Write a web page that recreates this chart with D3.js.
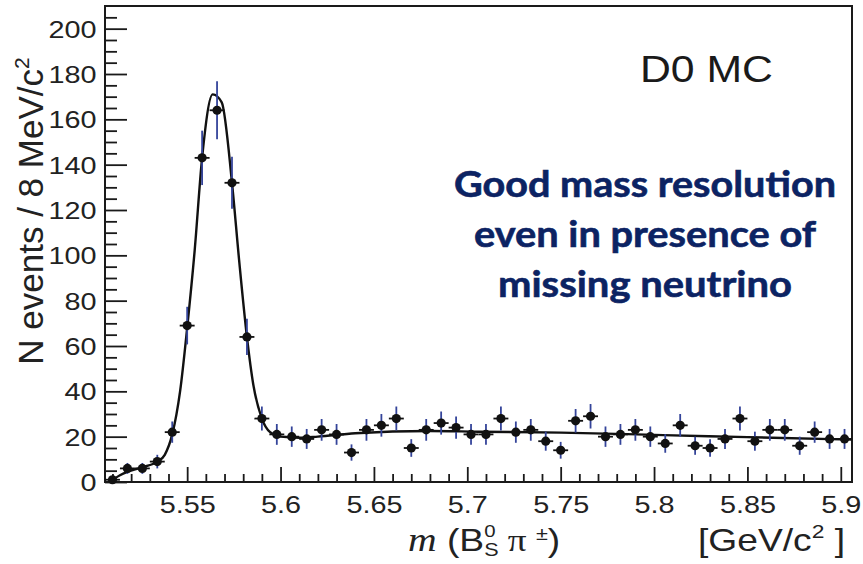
<!DOCTYPE html>
<html><head><meta charset="utf-8">
<script src="https://cdn.jsdelivr.net/npm/d3@7"></script>
<style>body{margin:0;background:#fff}</style>
</head><body><svg id="c" width="863" height="564"></svg>
<script>
// ---- data ----
const massBins = [5.510,5.518,5.526,5.534,5.542,5.550,5.558,5.566,5.574,5.582,5.590,5.598,5.606,5.614,5.622,5.630,5.638,5.646,5.654,5.662,5.670,5.678,5.686,5.694,5.702,5.710,5.718,5.726,5.734,5.742,5.750,5.758,5.766,5.774,5.782,5.790,5.798,5.806,5.814,5.822,5.830,5.838,5.846,5.854,5.862,5.870,5.878,5.886,5.894,5.902];
const counts = [1,6,6,9,22,69,143,164,132,64,28,21,20,19,23,21,13,23,25,28,15,23,26,24,21,21,28,22,23,18,14,27,29,20,21,23,20,17,25,16,15,19,28,18,23,23,16,22,19,19];
const countErrors = [1,2.4,2.4,3,4.7,8.3,12,12.8,11.5,8,5.3,4.6,4.5,4.4,4.8,4.6,3.6,4.8,5,5.3,3.9,4.8,5.1,4.9,4.6,4.6,5.3,4.7,4.8,4.2,3.7,5.2,5.4,4.5,4.6,4.8,4.5,4.1,5,4,3.9,4.4,5.3,4.2,4.8,4.8,4,4.7,4.4,4.4];
const binHalfWidth = 0.004;
const fitMass = [5.5085,5.514,5.518,5.526,5.534,5.538,5.542,5.5462,5.550,5.554,5.558,5.5637,5.5685,5.574,5.5778,5.582,5.5854,5.590,5.5944,5.600,5.610,5.620,5.640,5.680,5.706,5.750,5.805,5.850,5.906];
const fitValues = [0,3,4.5,6.5,9,12,21,40,68,102,143,171,167.5,132,98,64,43,28,22,20,19.5,20,21.5,22.5,22.2,21.8,20.7,19.8,18.7];
const xTicks = [5.55,5.6,5.65,5.7,5.75,5.8,5.85,5.9];
const xTickLabels = ["5.55","5.6","5.65","5.7","5.75","5.8","5.85","5.9"];
const xMinorTicks = [5.51,5.52,5.53,5.54,5.56,5.57,5.58,5.59,5.61,5.62,5.63,5.64,5.66,5.67,5.68,5.69,5.71,5.72,5.73,5.74,5.76,5.77,5.78,5.79,5.81,5.82,5.83,5.84,5.86,5.87,5.88,5.89];
const yTicks = [0,20,40,60,80,100,120,140,160,180,200];
const yTickLabels = ["0","20","40","60","80","100","120","140","160","180","200"];
const yMinorTicks = [5,10,15,25,30,35,45,50,55,65,70,75,85,90,95,105,110,115,125,130,135,145,150,155,165,170,175,185,190,195,205];
const tagText = "D0 MC";
const noteLines = ["Good mass resolution","even in presence of","missing neutrino"];

// ---- drawing ----
const svg = d3.select("#c");
const SANS = "'Liberation Sans', Arial, Helvetica, sans-serif";
const SERIF = "'Liberation Serif', 'Times New Roman', serif";
const L = 105, R = 852, T = 6, B = 482;
const STRETCH = 1.2; // the plot's text is drawn horizontally widened
const x = d3.scaleLinear().domain([5.506, 5.906]).range([L, R]);
const y = d3.scaleLinear().domain([0, 210]).range([B, T]);
const ink = "#1a1a1a";

// minor ticks
const gxm = svg.append("g").attr("transform", `translate(0,${B})`)
  .call(d3.axisBottom(x).tickValues(xMinorTicks).tickSize(-8).tickFormat(""));
const gym = svg.append("g").attr("transform", `translate(${L},0)`)
  .call(d3.axisLeft(y).tickValues(yMinorTicks).tickSize(-12).tickFormat(""));
// major ticks
const gx = svg.append("g").attr("transform", `translate(0,${B})`)
  .call(d3.axisBottom(x).tickValues(xTicks).tickSize(-15).tickPadding(14)
    .tickFormat((d,i) => xTickLabels[i]));
const gy = svg.append("g").attr("transform", `translate(${L},0)`)
  .call(d3.axisLeft(y).tickValues(yTicks).tickSize(-22).tickPadding(7)
    .tickFormat((d,i) => yTickLabels[i]));
[gxm, gym, gx, gy].forEach(g => {
  g.select(".domain").remove();
  g.selectAll(".tick line").attr("stroke", ink).attr("stroke-width", 1.8);
  g.selectAll("text").attr("font-family", SANS).attr("fill", "#222");
});
gx.selectAll("text").attr("font-size", 24).attr("transform", `scale(${STRETCH},1)`);
gy.selectAll("text").attr("font-size", 24).attr("dy", "0.36em").attr("transform", `scale(${STRETCH},1)`);

// frame
svg.append("rect").attr("x", L).attr("y", T).attr("width", R - L).attr("height", B - T)
  .attr("fill", "none").attr("stroke", ink).attr("stroke-width", 2);

// fit curve
const fitData = fitMass.map((m, i) => [m, fitValues[i]]);
svg.append("path").datum(fitData)
  .attr("d", d3.line().x(d => x(d[0])).y(d => y(d[1])).curve(d3.curveMonotoneX))
  .attr("fill", "none").attr("stroke", "#111").attr("stroke-width", 2.4);

// data points
const pts = massBins.map((m, i) => ({m, n: counts[i], e: countErrors[i]}));
const gp = svg.append("g");
gp.selectAll("line.ex").data(pts).join("line").attr("class", "ex")
  .attr("x1", d => x(d.m - binHalfWidth)).attr("x2", d => x(d.m + binHalfWidth))
  .attr("y1", d => y(d.n)).attr("y2", d => y(d.n))
  .attr("stroke", "#111").attr("stroke-width", 1.8);
gp.selectAll("line.ey").data(pts).join("line").attr("class", "ey")
  .attr("x1", d => x(d.m)).attr("x2", d => x(d.m))
  .attr("y1", d => y(Math.max(0, d.n - d.e))).attr("y2", d => y(d.n + d.e))
  .attr("stroke", "#34449a").attr("stroke-width", 1.8);
gp.selectAll("circle").data(pts).join("circle")
  .attr("cx", d => x(d.m)).attr("cy", d => y(d.n)).attr("r", 4.6).attr("fill", "#111");

// rich text helper
function rich(parent, parts, anchor) {
  const g = parent.append("g");
  let cx = 0, stackW = 0;
  parts.forEach(p => {
    const t = g.append("text").attr("x", cx).attr("y", p.dy || 0)
      .attr("font-family", p.font || SANS).attr("font-size", p.size)
      .attr("font-style", p.italic ? "italic" : "normal")
      .attr("fill", "#222").style("white-space", "pre").text(p.t);
    const w = t.node().getComputedTextLength();
    if (p.stack) { stackW = w; }
    else { cx += Math.max(w, stackW); stackW = 0; }
  });
  const shift = anchor === "end" ? -cx : anchor === "middle" ? -cx / 2 : 0;
  g.selectAll("text").attr("x", function() { return +this.getAttribute("x") + shift; });
  return g;
}

// y axis title
const yt = svg.append("g").attr("transform", "translate(43,211) rotate(-90)");
rich(yt, [{t: "N events / 8 MeV/c", size: 35}, {t: "2", size: 21, dy: -14}], "middle");

// x axis title
const xt = svg.append("g").attr("transform", `translate(408,551) scale(${STRETCH},1)`);
rich(xt, [
  {t: "m", size: 33, font: SERIF, italic: true},
  {t: " (B", size: 31},
  {t: "0", size: 17, dy: -14, stack: true},
  {t: "S", size: 18, dy: 5},
  {t: " π ", size: 31, font: SERIF},
  {t: "±", size: 18, dy: -11},
  {t: ")", size: 31}
], "start");
const ut = svg.append("g").attr("transform", `translate(845,551) scale(${STRETCH},1)`);
rich(ut, [{t: "[GeV/c", size: 31}, {t: "2", size: 19, dy: -13}, {t: " ]", size: 31}], "end");

// tag
svg.append("text").attr("x", 640).attr("y", 82).attr("font-family", SANS)
  .attr("font-size", 36).attr("fill", "#1a1a1a").attr("textLength", 133)
  .attr("lengthAdjust", "spacingAndGlyphs").text(tagText);

// note
const noteW = [382, 342, 294];
svg.append("g").selectAll("text").data(noteLines).join("text")
  .attr("x", 645).attr("y", (d, i) => 197 + i * 50)
  .attr("text-anchor", "middle").attr("font-family", "Lato, 'Open Sans', sans-serif")
  .attr("font-weight", 700).attr("font-size", 36).attr("fill", "#0c2363")
  .attr("stroke", "#0c2363").attr("stroke-width", 0.6)
  .attr("textLength", (d, i) => noteW[i]).attr("lengthAdjust", "spacingAndGlyphs")
  .text(d => d);
</script></body></html>
